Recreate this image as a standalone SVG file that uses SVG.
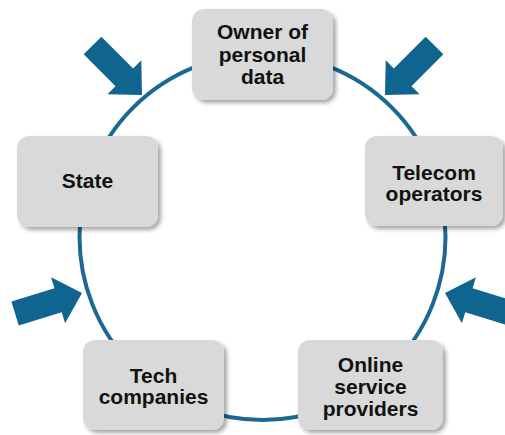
<svg xmlns="http://www.w3.org/2000/svg" width="505" height="435" viewBox="0 0 505 435">
  <defs>
    <filter id="sh" x="-10%" y="-10%" width="130%" height="130%">
      <feDropShadow dx="3" dy="3" stdDeviation="2" flood-color="#000" flood-opacity="0.35"/>
    </filter>
    <path id="arw" d="M -70,-12.5 L -25,-12.5 L -25,-24 L 0,0 L -25,24 L -25,12.5 L -70,12.5 Z"/>
  </defs>
  <style>
    .box { fill: #d9d9d9; filter: url(#sh); }
    .lbl { font-family: "Liberation Sans", Arial, sans-serif; font-weight: bold; font-size: 21px; fill: #111; text-anchor: middle; }
    .ring { fill: none; stroke: #1b6892; stroke-width: 4; }
    .arrow { fill: #0f6590; }
  </style>
  <rect width="505" height="435" fill="#fff"/>
  <g id="connectors">
    <circle class="ring" cx="262.5" cy="237" r="183"/>
  </g>
  <g id="arrows">
    <use href="#arw" class="arrow" transform="translate(142,95) rotate(45)"/>
    <use href="#arw" class="arrow" transform="translate(385,95) rotate(135)"/>
    <use href="#arw" class="arrow" transform="translate(82,293) rotate(-17)"/>
    <use href="#arw" class="arrow" transform="translate(445,293) rotate(-163)"/>
  </g>
  <g id="owner">
    <rect class="box" x="192" y="9" width="141" height="91" rx="12"/>
    <text class="lbl" x="262.5" y="39">Owner of</text>
    <text class="lbl" x="262.5" y="62">personal</text>
    <text class="lbl" x="262.5" y="84">data</text>
  </g>
  <g id="state">
    <rect class="box" x="17" y="136" width="141" height="91" rx="12"/>
    <text class="lbl" x="87.5" y="188">State</text>
  </g>
  <g id="telecom">
    <rect class="box" x="365" y="136" width="138" height="90" rx="12"/>
    <text class="lbl" x="434" y="180">Telecom</text>
    <text class="lbl" x="434" y="201">operators</text>
  </g>
  <g id="tech">
    <rect class="box" x="83" y="340" width="141" height="90" rx="12"/>
    <text class="lbl" x="153.5" y="383">Tech</text>
    <text class="lbl" x="153.5" y="404">companies</text>
  </g>
  <g id="online">
    <rect class="box" x="298" y="340" width="145" height="90" rx="12"/>
    <text class="lbl" x="370.5" y="372">Online</text>
    <text class="lbl" x="370.5" y="394">service</text>
    <text class="lbl" x="370.5" y="416">providers</text>
  </g>
</svg>
